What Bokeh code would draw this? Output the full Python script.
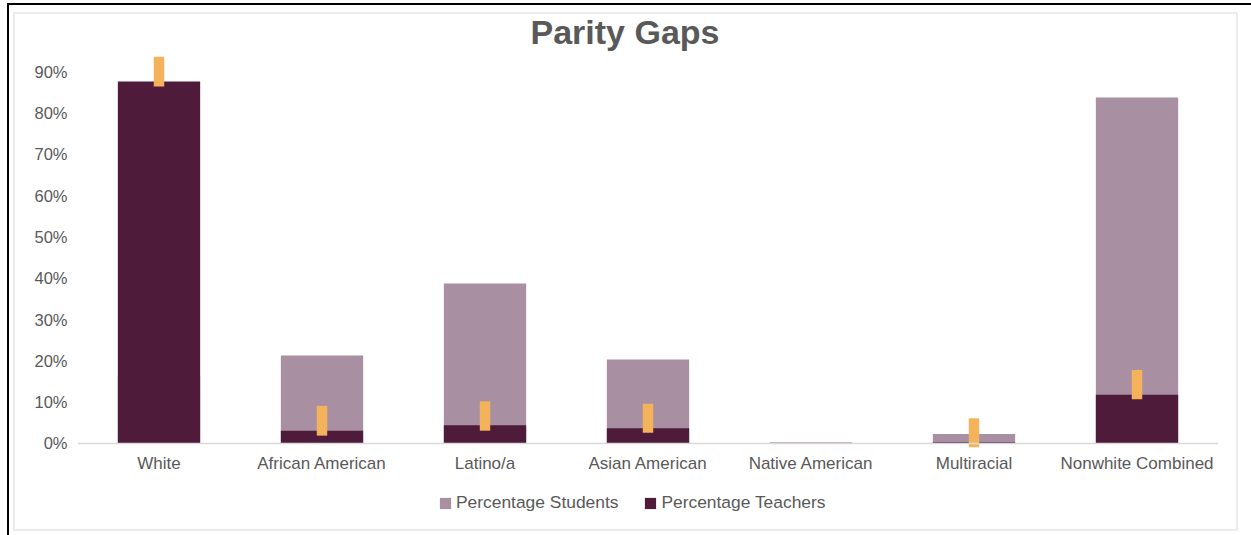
from bokeh.plotting import figure
from bokeh.models import (ColumnDataSource, Range1d, FactorRange, FixedTicker,
                          PrintfTickFormatter, Legend, LegendItem, Span)
from bokeh.embed import file_html
from bokeh.resources import INLINE

# Share of students and teachers by group (percent)
groups = ["White", "African American", "Latino/a", "Asian American",
          "Native American", "Multiracial", "Nonwhite Combined"]
students = [16.3, 21.3, 38.7, 20.3, 0.3, 2.3, 83.7]
teachers = [87.6, 3.1, 4.4, 3.7, 0.1, 0.3, 11.8]

# Gap markers (low / high, percent)
gap_groups = ["White", "African American", "Latino/a", "Asian American",
              "Multiracial", "Nonwhite Combined"]
gap_low = [86.4, 1.9, 3.1, 2.6, -0.9, 10.7]
gap_high = [93.6, 9.1, 10.2, 9.6, 6.1, 17.8]

y_ticks = [0, 10, 20, 30, 40, 50, 60, 70, 80, 90]

STUDENT = "#A98FA2"
TEACHER = "#4E1B3B"
GAP = "#F4B35A"
TEXT = "#595959"
FONT = "Liberation Sans"

W, H = 1251, 535
LEFT, RIGHT, TOP, BOTTOM = 77, 33, 50, 21

src = ColumnDataSource(dict(group=groups, students=students, teachers=teachers))
gap_src = ColumnDataSource(dict(group=gap_groups, low=gap_low, high=gap_high))

# The frame reaches down to the legend; the category axis sits just under zero
p = figure(width=W, height=H, x_range=FactorRange(*groups, range_padding=0),
           y_range=Range1d(-17.18, 95.09), output_backend="svg", toolbar_location=None,
           min_border_left=LEFT, min_border_right=RIGHT,
           min_border_top=TOP, min_border_bottom=BOTTOM)

p.outline_line_color = None
p.background_fill_color = None
p.border_fill_color = None
p.xgrid.grid_line_color = None
p.ygrid.grid_line_color = None

r_students = p.vbar(x="group", top="students", bottom=0, width=0.505, source=src,
                    fill_color=STUDENT, line_color=None)
r_teachers = p.vbar(x="group", top="teachers", bottom=0, width=0.505, source=src,
                    fill_color=TEACHER, line_color=None)
p.vbar(x="group", top="high", bottom="low", width=0.064, source=gap_src,
       fill_color=GAP, line_color=None)

# Baseline at zero
p.add_layout(Span(location=0, dimension="width", line_color="#D9D9D9", line_width=1.5))

# Axes
p.yaxis.ticker = FixedTicker(ticks=y_ticks)
p.yaxis.formatter = PrintfTickFormatter(format="%d%%")
p.yaxis.axis_line_color = None
p.yaxis.major_tick_line_color = None
p.yaxis.minor_tick_line_color = None
p.yaxis.major_tick_out = 0
p.yaxis.minor_tick_out = 0
p.yaxis.major_label_standoff = 10
p.yaxis.major_label_text_font = FONT
p.yaxis.major_label_text_font_size = "16.5px"
p.yaxis.major_label_text_color = TEXT

p.xaxis.fixed_location = -2.6
p.xaxis.axis_line_color = None
p.xaxis.major_tick_line_color = None
p.xaxis.major_tick_out = 0
p.xaxis.major_tick_in = 0
p.xaxis.major_label_standoff = 0
p.xaxis.major_label_text_font = FONT
p.xaxis.major_label_text_font_size = "17px"
p.xaxis.major_label_text_color = TEXT

# Title
p.title.text = "Parity Gaps"
p.title.align = "left"
p.title.offset = 453
p.title.standoff = 0
p.title.text_font = FONT
p.title.text_font_style = "bold"
p.title.text_font_size = "34px"
p.title.text_color = TEXT

# Legend under the category labels
legend = Legend(items=[LegendItem(label="Percentage Students", renderers=[r_students]),
                       LegendItem(label="Percentage Teachers", renderers=[r_teachers])],
                orientation="horizontal", location=(361, 1),
                glyph_width=14, glyph_height=14, label_standoff=4, spacing=25,
                padding=0, margin=0, border_line_color=None,
                background_fill_alpha=0, label_text_font=FONT,
                label_text_font_size="17.4px", label_text_color=TEXT)
p.add_layout(legend, "center")

# Page frame: black edge lines and a light grey chart border, as CSS backgrounds
rects = [
    (7, 3, W, 2),        # black line along the top
    (7, 3, 2, H),        # black line down the left side
    (13, 12, 1225, 2),   # grey border, top
    (13, 529, 1225, 2),  # grey border, bottom
    (13, 12, 2, 519),    # grey border, left
    (1236, 12, 2, 519),  # grey border, right
]
cols = ["#000000", "#000000", "#EBEBEB", "#EBEBEB", "#EBEBEB", "#EBEBEB"]
p.styles = {
    "background-color": "white",
    "background-image": ", ".join(f"linear-gradient({c}, {c})" for c in cols),
    "background-position": ", ".join(f"{x}px {y}px" for x, y, _, _ in rects),
    "background-size": ", ".join(f"{w}px {h}px" for _, _, w, h in rects),
    "background-repeat": "no-repeat",
}

open("out.html", "w").write(file_html(p, INLINE))
